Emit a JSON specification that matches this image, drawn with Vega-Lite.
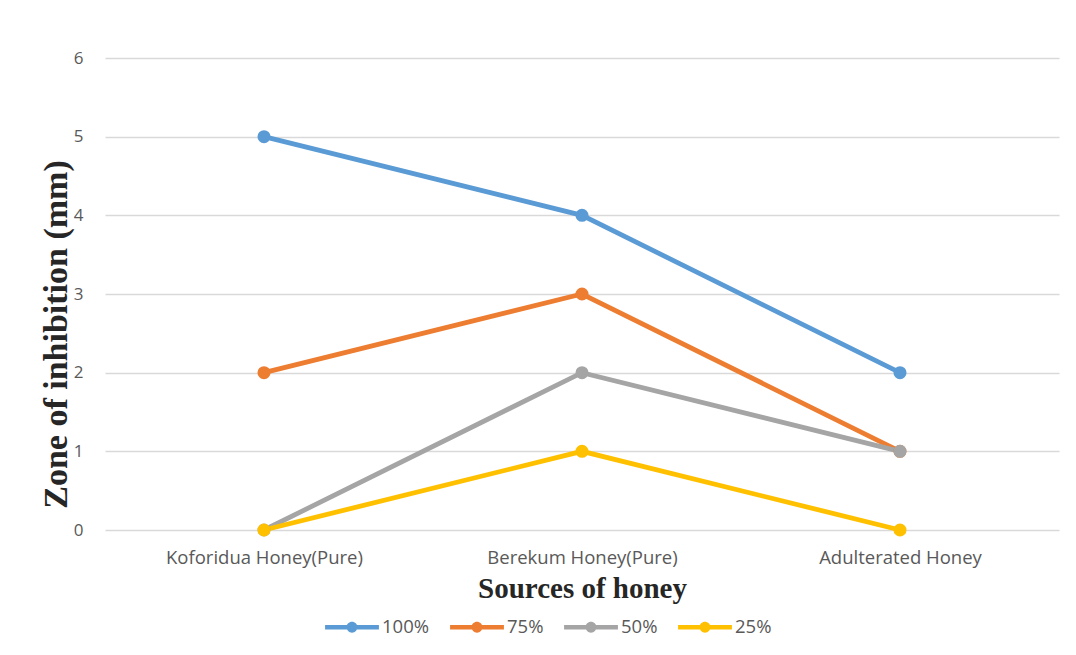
{
  "$schema": "https://vega.github.io/schema/vega-lite/v6.json",
  "autosize": "none",
  "width": 954,
  "height": 472,
  "padding": {"left": 105, "top": 58, "right": 17, "bottom": 125},
  "background": "white",
  "config": {
    "view": {"stroke": null},
    "font": "Open Sans"
  },
  "data": {
    "values": [
      {"source": "Koforidua Honey(Pure)", "conc": "100%", "zone": 5},
      {"source": "Berekum Honey(Pure)", "conc": "100%", "zone": 4},
      {"source": "Adulterated Honey", "conc": "100%", "zone": 2},
      {"source": "Koforidua Honey(Pure)", "conc": "75%", "zone": 2},
      {"source": "Berekum Honey(Pure)", "conc": "75%", "zone": 3},
      {"source": "Adulterated Honey", "conc": "75%", "zone": 1},
      {"source": "Koforidua Honey(Pure)", "conc": "50%", "zone": 0},
      {"source": "Berekum Honey(Pure)", "conc": "50%", "zone": 2},
      {"source": "Adulterated Honey", "conc": "50%", "zone": 1},
      {"source": "Koforidua Honey(Pure)", "conc": "25%", "zone": 0},
      {"source": "Berekum Honey(Pure)", "conc": "25%", "zone": 1},
      {"source": "Adulterated Honey", "conc": "25%", "zone": 0}
    ]
  },
  "mark": {"type": "line", "strokeWidth": 4.8, "point": {"filled": true, "size": 170, "opacity": 1}},
  "encoding": {
    "x": {
      "field": "source",
      "type": "nominal",
      "sort": ["Koforidua Honey(Pure)", "Berekum Honey(Pure)", "Adulterated Honey"],
      "scale": {"type": "point", "padding": 0.5},
      "axis": {
        "title": "Sources of honey",
        "titleFont": "Liberation Serif",
        "titleFontSize": 29,
        "titleFontWeight": "bold",
        "titleColor": "#262626",
        "titlePadding": 8,
        "labelAngle": 0,
        "labelFontSize": 18.5,
        "labelColor": "#595959",
        "labelPadding": 18,
        "labelLimit": 0,
        "domain": false,
        "ticks": false
      }
    },
    "y": {
      "field": "zone",
      "type": "quantitative",
      "scale": {"domain": [0, 6]},
      "axis": {
        "title": "Zone of inhibition (mm)",
        "titleFont": "Liberation Serif",
        "titleFontSize": 34,
        "titleFontWeight": "bold",
        "titleColor": "#262626",
        "titlePadding": 0,
        "titleY": 276,
        "values": [0, 1, 2, 3, 4, 5, 6],
        "labelFontSize": 17,
        "labelColor": "#595959",
        "labelPadding": 22,
        "domain": false,
        "ticks": false,
        "grid": true,
        "gridColor": "#D9D9D9",
        "gridWidth": 1.3
      }
    },
    "color": {
      "field": "conc",
      "type": "nominal",
      "sort": ["100%", "75%", "50%", "25%"],
      "scale": {
        "domain": ["100%", "75%", "50%", "25%"],
        "range": ["#5B9BD5", "#ED7D31", "#A5A5A5", "#FFC000"]
      },
      "legend": {
        "title": null,
        "orient": "none",
        "direction": "horizontal",
        "legendX": 220,
        "legendY": 542,
        "symbolType": "M-1,-0.08L1,-0.08L1,0.08L-1,0.08Z M0.2,0A0.2,0.2 0 1,1 -0.2,0A0.2,0.2 0 1,1 0.2,0Z",
        "symbolSize": 2900,
        "symbolStrokeWidth": 0,
        "labelFontSize": 18.5,
        "labelColor": "#595959",
        "labelOffset": 3,
        "columnPadding": 20,
        "encode": {
          "symbols": {
            "update": {
              "fill": {"scale": "color", "field": "value"},
              "strokeWidth": {"value": 0},
              "opacity": {"value": 1}
            }
          }
        }
      }
    }
  }
}
